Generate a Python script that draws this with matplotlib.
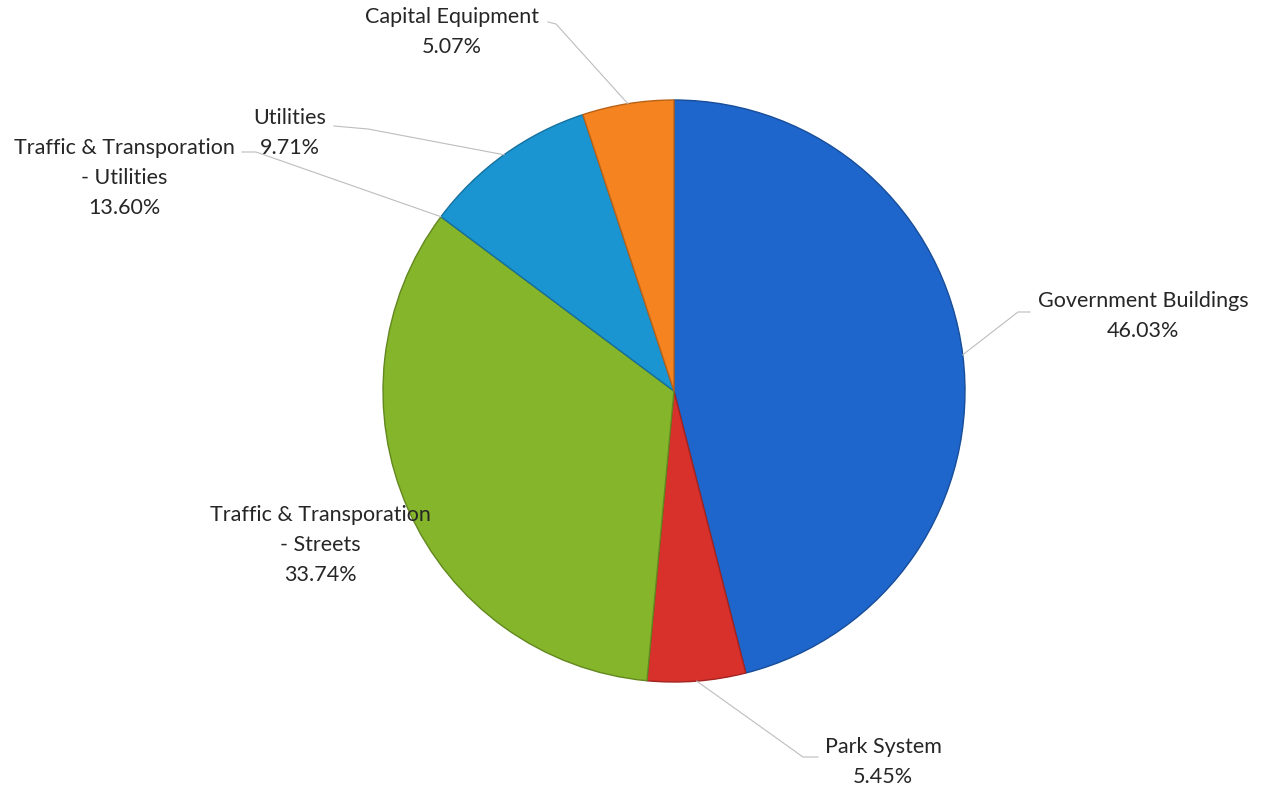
import numpy as np
import matplotlib.pyplot as plt
import matplotlib.colors as mcolors

plt.rcParams['font.family'] = ['Lato', 'DejaVu Sans']

# slices, clockwise from 12 o'clock
names = ['Government Buildings', 'Park System', 'Traffic & Transporation\n- Streets',
         'Traffic & Transporation\n- Utilities', 'Utilities', 'Capital Equipment']
shares = [46.03, 5.45, 33.74, 0.0, 9.71, 5.07]
pct_labels = ['46.03%', '5.45%', '33.74%', '13.60%', '9.71%', '5.07%']
colors = ['#1f66cc', '#d8302a', '#84b52a', '#84b52a', '#1b95d2', '#f5831f']

# label anchor (centre of text block) and leader-line elbow, pixels from top-left
label_xy = [(1143, 316), (883, 762), (320, 545), (124, 178), (290, 133), (452, 32)]
elbows = [[(1030, 312), (1018, 312)], [(818, 757), (803, 757)], None,
          [(242, 152), (256, 152)], [(334, 126), (368, 129)], [(548, 22), (556, 24)]]

W, H = 1263, 793
cx, cy, r = 674, H - 391, 291


def flip(y):
    return H - y


fig = plt.figure(figsize=(W / 100, H / 100), dpi=100)
ax = fig.add_axes([0, 0, 1, 1])

wedges, _ = ax.pie(shares, colors=colors, startangle=90, counterclock=False,
                   center=(cx, cy), radius=r, frame=True,
                   wedgeprops=dict(linewidth=1.0))
for w, c in zip(wedges, colors):
    w.set_edgecolor(mcolors.to_hex(np.array(mcolors.to_rgb(c)) * 0.75))
ax.set_xlim(0, W)
ax.set_ylim(0, H)
ax.set_aspect('equal')
ax.axis('off')

for w, name, pct, (tx, ty), elb in zip(wedges, names, pct_labels, label_xy, elbows):
    if elb is not None:
        mid = np.deg2rad((w.theta1 + w.theta2) / 2)
        px = cx + r * np.cos(mid)
        py = cy + r * np.sin(mid)
        xs = [elb[0][0], elb[1][0], px]
        ys = [flip(elb[0][1]), flip(elb[1][1]), py]
        ax.plot(xs, ys, color='#bdbdbd', lw=0.8, zorder=3)
    ax.text(tx, flip(ty), name + '\n' + pct, ha='center', va='center',
            fontsize=15.5, color='#262626', linespacing=1.6, zorder=4)

fig.savefig('out.png', dpi=100)
